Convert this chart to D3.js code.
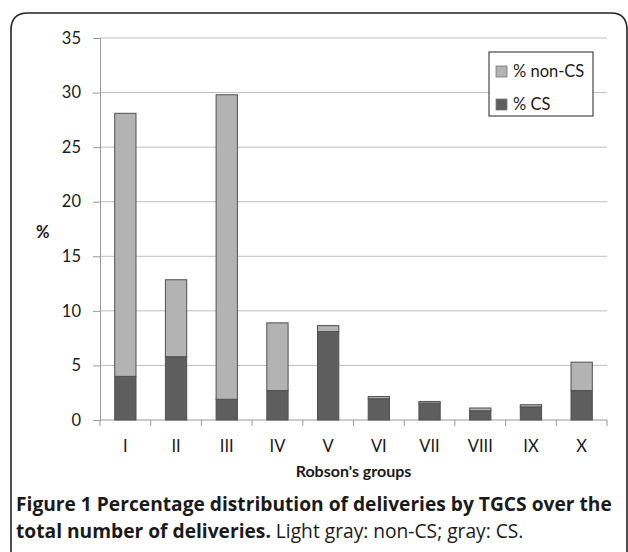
<!DOCTYPE html>
<html>
<head>
<meta charset="utf-8">
<script src="https://cdn.jsdelivr.net/npm/d3@7"></script>
<style>
  body { margin: 0; background: #fff; }
  svg text { font-family: Lato, "Open Sans", sans-serif; fill: #1a1a1a; }
  .caption { font-family: "Open Sans", "Noto Sans", sans-serif; }
</style>
</head>
<body>
<div id="chart"></div>
<script>
// Robson groups and the two stacked series (percent of all deliveries)
let groups = ["I", "II", "III", "IV", "V", "VI", "VII", "VIII", "IX", "X"];
let csValues = [4.0, 5.8, 1.9, 2.7, 8.1, 1.95, 1.55, 0.85, 1.2, 2.7];
let nonCsValues = [24.1, 7.05, 27.9, 6.2, 0.55, 0.2, 0.15, 0.25, 0.2, 2.6];
let yTicks = [0, 5, 10, 15, 20, 25, 30, 35];
let legendLabels = ["% non-CS", "% CS"];

let width = 628, height = 552;
let margin = { top: 38, right: 21, bottom: 132, left: 100 };
let plotW = width - margin.left - margin.right;
let plotH = height - margin.top - margin.bottom;

let svg = d3.select("#chart")
	.append("svg")
	.attr("width", width)
	.attr("height", height);

// rounded frame round the figure, open at the bottom
svg.append("path")
	.attr("d", "M11,560 L11,30 Q11,13 28,13 L611,13 Q627,13 627,30 L627,560")
	.attr("fill", "none")
	.attr("stroke", "#222")
	.attr("stroke-width", 1.6);

let g = svg.append("g")
	.attr("transform", "translate(" + margin.left + "," + margin.top + ")");

let x = d3.scaleBand()
	.domain(groups)
	.range([0, plotW])
	.paddingInner(0.58)
	.paddingOuter(0.29);

let xEdge = d3.scaleLinear()
	.domain([0, groups.length])
	.range([0, plotW]);

let y = d3.scaleLinear()
	.domain([0, 35])
	.range([plotH, 0]);

// grid lines
g.append("g")
	.selectAll("line")
	.data(yTicks.slice(1))
	.enter().append("line")
	.attr("x1", 0)
	.attr("x2", plotW)
	.attr("y1", d => y(d))
	.attr("y2", d => y(d))
	.attr("stroke", "#bdbdbd")
	.attr("stroke-width", 1);

// y axis
let yAxis = g.append("g")
	.call(d3.axisLeft(y).tickValues(yTicks).tickSize(7).tickPadding(12))
	.style("font-size", "16.5px");
yAxis.select(".domain").attr("stroke", "#999");
yAxis.selectAll(".tick line").attr("stroke", "#999");
yAxis.selectAll("text").attr("fill", "#1a1a1a");

// x axis with ticks at the category edges
let xAxis = g.append("g")
	.attr("transform", "translate(0," + plotH + ")");
xAxis.append("line")
	.attr("x1", 0).attr("x2", plotW)
	.attr("stroke", "#999");
xAxis.selectAll(".edge")
	.data(d3.range(groups.length + 1))
	.enter().append("line")
	.attr("class", "edge")
	.attr("x1", d => xEdge(d)).attr("x2", d => xEdge(d))
	.attr("y1", 0).attr("y2", 6)
	.attr("stroke", "#999");
xAxis.selectAll(".lbl")
	.data(groups)
	.enter().append("text")
	.attr("class", "lbl")
	.attr("x", d => x(d) + x.bandwidth() / 2)
	.attr("y", 32)
	.attr("text-anchor", "middle")
	.style("font-size", "16.5px")
	.text(d => d);

// stacked bars
let rows = groups.map((d, i) => ({ group: d, cs: csValues[i], noncs: nonCsValues[i] }));
let color = d3.scaleOrdinal()
	.domain(["cs", "noncs"])
	.range(["#5e5e5e", "#b3b3b3"]);
let stackedData = d3.stack().keys(["cs", "noncs"])(rows);

g.append("g")
	.selectAll("g")
	.data(stackedData)
	.enter().append("g")
	.attr("fill", d => color(d.key))
	.selectAll("rect")
	.data(d => d)
	.enter().append("rect")
	.attr("x", d => x(d.data.group))
	.attr("y", d => y(d[1]))
	.attr("width", x.bandwidth())
	.attr("height", d => y(d[0]) - y(d[1]))
	.attr("stroke", "#505050")
	.attr("stroke-width", 1);

// axis titles
g.append("text")
	.attr("x", -64)
	.attr("y", 200)
	.style("font-size", "16.5px")
	.attr("font-weight", "bold")
	.text("%");

g.append("text")
	.attr("x", plotW / 2)
	.attr("y", plotH + 57)
	.attr("text-anchor", "middle")
	.style("font-size", "16px")
	.attr("font-weight", "bold")
	.text("Robson's groups");

// legend
let legend = svg.append("g").attr("transform", "translate(489,52)");
legend.append("rect")
	.attr("width", 104).attr("height", 64)
	.attr("fill", "#fff")
	.attr("stroke", "#222")
	.attr("stroke-width", 1);
let legendColors = [color("noncs"), color("cs")];
legendLabels.forEach(function (lab, i) {
	legend.append("rect")
		.attr("x", 7).attr("y", 14 + i * 33)
		.attr("width", 11).attr("height", 11)
		.attr("fill", legendColors[i])
		.attr("stroke", "#777")
		.attr("stroke-width", 0.8);
	legend.append("text")
		.attr("x", 24).attr("y", 25 + i * 33)
		.style("font-size", "16.5px")
		.text(lab);
});

// figure caption
let cap = svg.append("text")
	.attr("class", "caption")
	.attr("x", 16)
	.attr("y", 511)
	.style("font-size", "19.2px");
cap.append("tspan").attr("font-weight", "bold")
	.text("Figure 1 Percentage distribution of deliveries by TGCS over the");
let cap2 = svg.append("text")
	.attr("class", "caption")
	.attr("x", 16)
	.attr("y", 538)
	.style("font-size", "19.2px");
cap2.append("tspan").attr("font-weight", "bold").text("total number of deliveries.");
cap2.append("tspan").text(" Light gray: non-CS; gray: CS.");
</script>
</body>
</html>
